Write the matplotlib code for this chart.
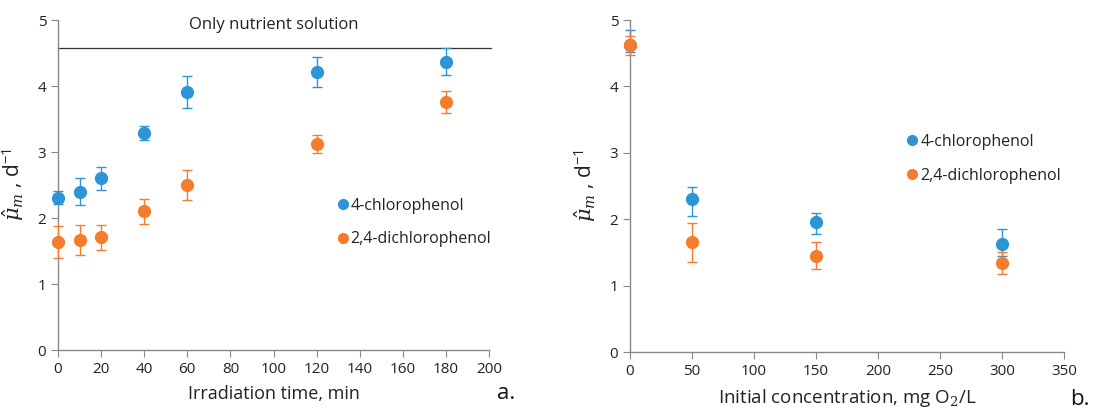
import matplotlib
matplotlib.use("Agg")
import matplotlib.pyplot as plt
from matplotlib.lines import Line2D
import numpy as np

plt.rcParams['font.family'] = ['Open Sans', 'DejaVu Sans']
plt.rcParams['mathtext.fontset'] = 'dejavuserif'

# Panel a: irradiation time
time_min = [0, 10, 20, 40, 60, 120, 180]
cp_a = [2.31, 2.40, 2.60, 3.29, 3.91, 4.21, 4.37]
cp_a_err = [0.10, 0.21, 0.18, 0.11, 0.24, 0.23, 0.20]
dcp_a = [1.64, 1.67, 1.71, 2.10, 2.50, 3.12, 3.76]
dcp_a_err = [0.24, 0.23, 0.19, 0.19, 0.23, 0.14, 0.17]
nutrient_only = 4.58

# Panel b: initial concentration
conc = [0, 50, 150, 300]
cp_b = [4.62, 2.31, 1.96, 1.62]
cp_b_err_low = [0.10, 0.26, 0.18, 0.17]
cp_b_err_up = [0.23, 0.17, 0.13, 0.23]
dcp_b = [4.62, 1.65, 1.45, 1.34]
dcp_b_err = [0.14, 0.29, 0.20, 0.17]

series_names = ['4-chlorophenol', '2,4-dichlorophenol']

blue = '#2b95d6'
orange = '#f47c2c'
axis_grey = '#888888'
text_col = '#222222'

fig = plt.figure(figsize=(10.94, 4.16), dpi=100)
W, H = 1094, 416
axA = fig.add_axes([58 / W, 1 - 350 / H, (489 - 58) / W, (350 - 20) / H])
axB = fig.add_axes([630 / W, 1 - 352 / H, (1064 - 630) / W, (352 - 20) / H])

ylabel = r'$\hat{\mu}_m$ , d$^{\mathregular{-1}}$'


def style(ax, xmax, xstep):
    ax.set_ylim(0, 5)
    ax.set_xlim(0, xmax)
    ax.set_xticks(np.arange(0, xmax + 1, xstep))
    ax.set_yticks(range(0, 6))
    for s in ['top', 'right']:
        ax.spines[s].set_visible(False)
    for s in ['left', 'bottom']:
        ax.spines[s].set_color(axis_grey)
        ax.spines[s].set_linewidth(1.0)
    ax.tick_params(direction='out', length=5, color=axis_grey, labelsize=11,
                   labelcolor=text_col)
    ax.set_ylabel(ylabel, fontsize=15, color=text_col, labelpad=8)


def series(ax, x, y, e, color, z=3):
    ax.errorbar(x, y, yerr=e, fmt='o', color=color, ms=8.5, ecolor=color,
                elinewidth=1.0, capsize=3.5, capthick=1.0,
                clip_on=False, zorder=z)


def legend(ax, anchor):
    handles = [Line2D([], [], ls='none', marker='o', ms=7, color=c)
               for c in (blue, orange)]
    leg = ax.legend(handles, series_names, loc='upper left',
                    bbox_to_anchor=anchor, frameon=False, fontsize=11.5,
                    handletextpad=0.1, labelspacing=1.1, handlelength=0.8)
    for t in leg.get_texts():
        t.set_color(text_col)


# Panel a
style(axA, 200, 20)
axA.axhline(nutrient_only, color='#333333', lw=0.9, xmin=0, xmax=1.005,
            clip_on=False)
series(axA, time_min, cp_a, cp_a_err, blue)
series(axA, time_min, dcp_a, dcp_a_err, orange)
axA.text(100, 4.93, 'Only nutrient solution', ha='center', va='center',
         fontsize=12, color=text_col)
axA.set_xlabel('Irradiation time, min', fontsize=13, color=text_col, labelpad=6)
legend(axA, (0.612, 0.505))
fig.text(506 / W, 1 - 404 / H, 'a.', fontsize=16, color='#111111',
         ha='center', va='bottom')

# Panel b
style(axB, 350, 50)
series(axB, conc, cp_b, [cp_b_err_low, cp_b_err_up], blue, z=2)
series(axB, conc, dcp_b, dcp_b_err, orange)
axB.set_xlabel('Initial concentration, mg O$_2$/L', fontsize=13.5,
               color=text_col, labelpad=6)
legend(axB, (0.603, 0.70))
fig.text(1080 / W, 1 - 410 / H, 'b.', fontsize=16, color='#111111',
         ha='center', va='bottom')

fig.savefig('out.png', dpi=100)
